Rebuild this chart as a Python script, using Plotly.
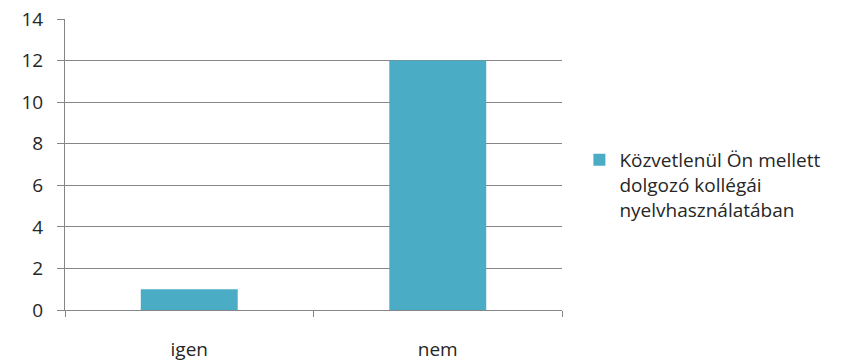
import plotly.graph_objects as go

categories = ["igen", "nem"]
values = [1, 12]
series_name = "Közvetlenül Ön mellett<br>dolgozó kollégái<br>nyelvhasználatában"
y_ticks = [0, 2, 4, 6, 8, 10, 12, 14]

bar_color = "#4BACC6"
grid_color = "#868686"
text_color = "#262626"
font_family = "Open Sans, Noto Sans, sans-serif"
fsize = 19

fig = go.Figure()
fig.add_trace(go.Bar(
    x=categories, y=values, name=series_name,
    marker=dict(color=bar_color, line=dict(width=0)),
    width=0.39, showlegend=True,
))

fig.update_layout(
    width=850, height=361,
    margin=dict(l=65, r=288, t=19, b=51, autoexpand=False),
    paper_bgcolor="white", plot_bgcolor="white",
    font=dict(family=font_family, size=fsize, color=text_color),
    showlegend=True,
    legend=dict(
        x=1.035, xanchor="left", y=0.43, yanchor="middle",
        valign="top",
        font=dict(family=font_family, size=fsize, color=text_color),
        bgcolor="rgba(0,0,0,0)", tracegroupgap=0,
    ),
    bargap=0.61,
)
fig.update_xaxes(
    type="category", showgrid=False, automargin=False,
    showline=True, linecolor=grid_color, linewidth=1,
    ticks="outside", tickson="boundaries", ticklen=6, tickcolor=grid_color,
    ticklabelstandoff=22,
    tickfont=dict(family=font_family, size=fsize, color=text_color),
)
fig.update_yaxes(
    range=[0, 14], tickvals=y_ticks, automargin=False,
    showgrid=True, gridcolor=grid_color, gridwidth=1,
    showline=True, linecolor=grid_color, linewidth=1,
    ticks="outside", ticklen=7, tickcolor=grid_color,
    ticklabelstandoff=10, zeroline=False,
    tickfont=dict(family=font_family, size=fsize, color=text_color),
)

fig.write_html("out.html")
